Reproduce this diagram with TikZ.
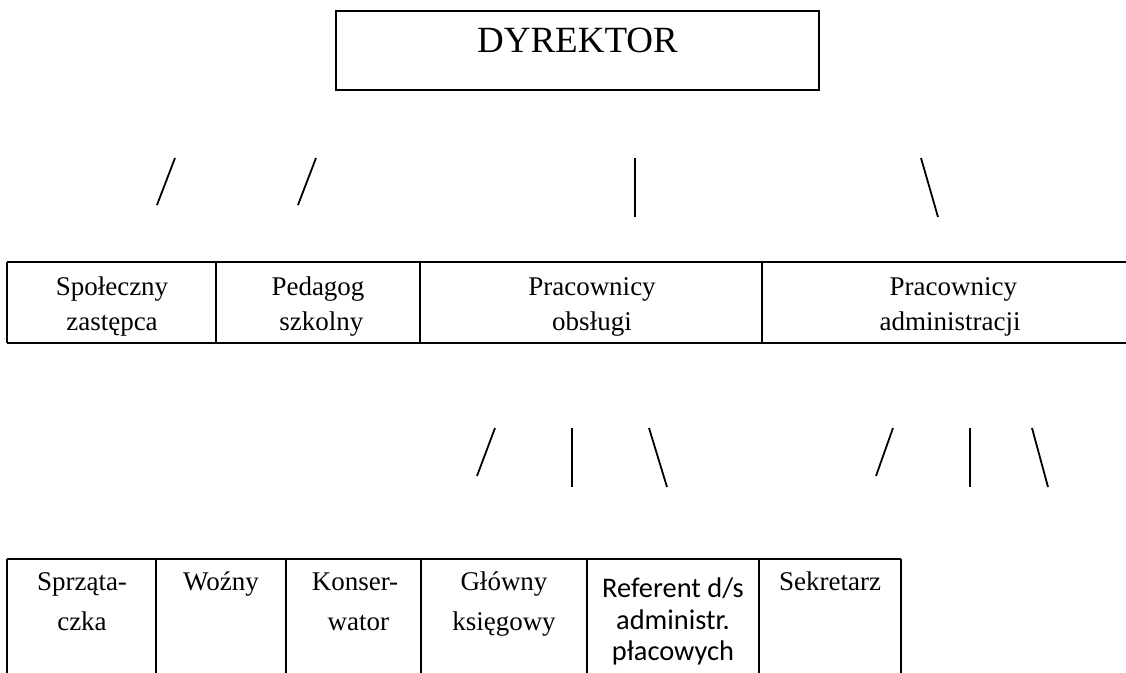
\documentclass[tikz,border=0pt]{standalone}
\usepackage{fontspec}
\setmainfont{Liberation Serif}
\newfontfamily\calibri{Carlito}
\usepackage{tikz}
\tikzset{cell/.style={align=center, inner sep=0pt, anchor=base}}
\tikzset{stroke/.style={line width=0.9pt}}

\begin{document}
\begin{tikzpicture}[x=0.5pt, y=-0.5pt, line width=0.65pt]
  \fontsize{13.5}{17.5}\selectfont
  \useasboundingbox (0,0) rectangle (1126,673);

  %% director
  \draw (336,11) rectangle (819,90);
  \node[cell, font=\fontsize{18.5}{22}\selectfont] (dyr) at (577.5,53) {DYREKTOR};

  %% strokes below the director
  \draw[stroke] (175,158)--(157,205);
  \draw[stroke] (316,158)--(298,205);
  \draw[stroke, line width=1.1pt] (635,158)--(635,217);
  \draw[stroke] (921,158)--(938,217);

  %% second row (base = last line)
  \draw (7,262)--(1126,262);
  \draw (7,343)--(1126,343);
  \foreach \x in {7,216,420,762} \draw (\x,262)--(\x,343);

  \node[cell] (spol) at (112,331) {Społeczny\\zastępca};
  \node[cell] (ped) at (318,331) {Pedagog\\\ szkolny};
  \node[cell] (obs) at (592,331) {Pracownicy\\obsługi};
  \node[cell] (adm) at (950,331) {\ Pracownicy\\administracji};

  %% strokes below the second row
  \draw[stroke] (495,428)--(477,476);
  \draw[stroke, line width=1.1pt] (572,428)--(572,487);
  \draw[stroke] (649,428)--(667,487);
  \draw[stroke] (893,428)--(876,476);
  \draw[stroke, line width=1.1pt] (970,428)--(970,487);
  \draw[stroke] (1032,428)--(1048,487);

  %% third row
  \draw (7,559)--(901,559);
  \foreach \x in {7,156,286,421,587,759,901} \draw (\x,559)--(\x,673);

  \begin{scope}[font=\fontsize{13.5}{20}\selectfont]
    \node[cell] (sprz) at (82,631) {Sprząta-\\czka};
    \node[cell] (wozny) at (221,591) {Woźny};
    \node[cell] (kons) at (355,631) {Konser-\\\ wator};
    \node[cell] (ksieg) at (504,631) {Główny\\księgowy};
    \node[cell, font=\calibri\fontsize{14.2}{15.8}\selectfont] (ref) at (673,661) {Referent d/s\\administr.\\płacowych};
    \node[cell] (sekr) at (830,591) {Sekretarz};
  \end{scope}
\end{tikzpicture}
\end{document}
